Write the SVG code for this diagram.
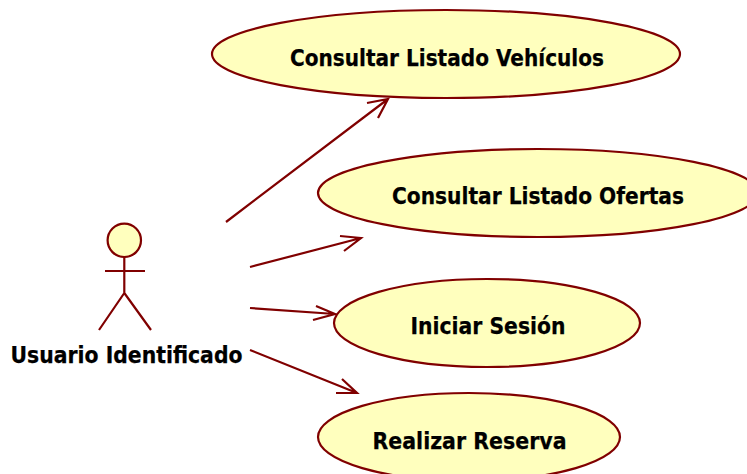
<svg xmlns="http://www.w3.org/2000/svg" width="747" height="474" viewBox="0 0 747 474">
<style>
.n{fill:#ffffbe;stroke:#800000;stroke-width:2.2}
.a{fill:none;stroke:#800000;stroke-width:2.2}
text{font-family:"DejaVu Sans",Verdana,sans-serif;font-weight:bold;font-size:23px;fill:#000;stroke:#000;stroke-width:.25;text-anchor:middle}
</style>
<rect width="747" height="474" fill="#fff"/>
<g id="connectors">
<path class="a" d="M226 222L388 99M367 103L388 99L378 118"/>
<path class="a" d="M250 267L361 238M340 236L361 238L344 251"/>
<path class="a" d="M250 308L335 314M316 306L335 314L313 320"/>
<path class="a" d="M250 350L357 393M342 379L357 393L336 393"/>
</g>
<g id="actor">
<circle class="n" cx="124.300" cy="240.300" r="16.700"/>
<path class="a" d="M124.300 257V293M105 271H145M124.300 293L99 330M124.300 293L151 330"/>
<text x="126.500" y="362.500" textLength="232" lengthAdjust="spacingAndGlyphs">Usuario Identificado</text>
</g>
<g id="uc1"><ellipse class="n" cx="446" cy="54" rx="234" ry="44"/><text x="447" y="66" textLength="314" lengthAdjust="spacingAndGlyphs">Consultar Listado Vehículos</text></g>
<g id="uc2"><ellipse class="n" cx="538" cy="193" rx="220" ry="44"/><text x="538" y="203.500" textLength="292" lengthAdjust="spacingAndGlyphs">Consultar Listado Ofertas</text></g>
<g id="uc3"><ellipse class="n" cx="487" cy="323" rx="153" ry="44"/><text x="488" y="333.500" textLength="155" lengthAdjust="spacingAndGlyphs">Iniciar Sesión</text></g>
<g id="uc4"><ellipse class="n" cx="469" cy="437" rx="151" ry="44"/><text x="469.500" y="448.500" textLength="194" lengthAdjust="spacingAndGlyphs">Realizar Reserva</text></g>
</svg>
